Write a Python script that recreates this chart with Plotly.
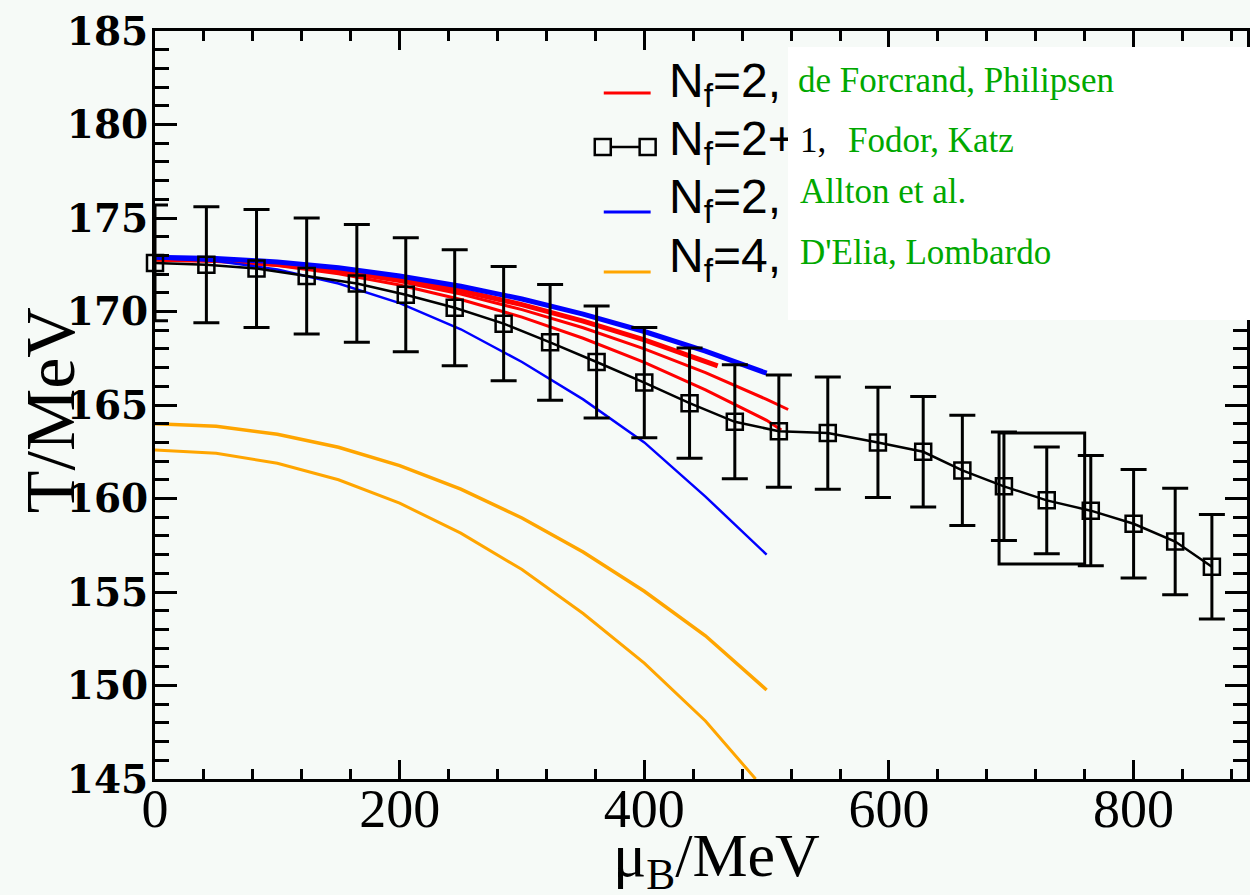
import plotly.graph_objects as go

# ---- Fodor & Katz, Nf=2+1 transition line with errors ----
mu_fk = [0, 42, 83, 124, 165, 205, 245, 285, 323, 361, 400, 437, 474, 510,
         550, 591, 628, 660, 694, 729, 765, 800, 834, 864]
T_fk = [172.6, 172.5, 172.3, 171.9, 171.5, 170.9, 170.2, 169.35, 168.35, 167.3,
        166.2, 165.1, 164.1, 163.6, 163.5, 163.0, 162.5, 161.5, 160.65, 159.9,
        159.35, 158.65, 157.7, 156.35]
dT_fk = [3.1, 3.1, 3.15, 3.1, 3.15, 3.05, 3.1, 3.05, 3.1, 3.0, 2.95, 2.95,
         3.05, 3.0, 3.0, 2.95, 2.95, 2.95, 2.9, 2.85, 2.95, 2.9, 2.85, 2.8]

# critical endpoint estimate (mu_E +- dmu, T_E +- dT)
mu_E, dmu_E = 725, 35
T_E, dT_E = 160, 3.5

# ---- de Forcrand, Philipsen, Nf=2 (three curves) ----
mu_dfp1 = [0, 50, 100, 150, 200, 250, 300, 350, 400, 450, 460]
T_dfp1 = [172.8, 172.73, 172.53, 172.19, 171.72, 171.11, 170.37, 169.49, 168.48, 167.33, 167.09]
mu_dfp2 = [0, 50, 100, 150, 200, 250, 300, 350, 400, 450, 500, 517.6]
T_dfp2 = [172.8, 172.72, 172.5, 172.13, 171.6, 170.93, 170.1, 169.13, 168.0, 166.73, 165.3, 164.76]
mu_dfp3 = [0, 50, 100, 150, 200, 250, 300, 350, 400, 450, 500, 512]
T_dfp3 = [172.8, 172.71, 172.46, 172.02, 171.42, 170.64, 169.7, 168.57, 167.28, 165.81, 164.18, 163.66]

# ---- Allton et al., Nf=2 ----
mu_all = [0, 50, 100, 150, 200, 250, 300, 350, 400, 450, 500]
T_all_up = [172.9, 172.84, 172.65, 172.34, 171.9, 171.35, 170.67, 169.86, 168.93, 167.88, 166.7]
T_all_lo = [172.85, 172.7, 172.25, 171.5, 170.45, 169.05, 167.3, 165.3, 163.0, 160.1, 157.0]

# ---- D'Elia, Lombardo, Nf=4 ----
mu_dl_up = [0, 50, 100, 150, 200, 250, 300, 350, 400, 450, 500]
T_dl_up = [164.0, 163.86, 163.44, 162.74, 161.76, 160.5, 158.96, 157.14, 155.04, 152.66, 149.76]
mu_dl_lo = [0, 50, 100, 150, 200, 250, 300, 350, 400, 450, 491]
T_dl_lo = [162.6, 162.42, 161.88, 161.0, 159.75, 158.15, 156.2, 153.85, 151.2, 148.1, 145.0]

x_ticks = [0, 200, 400, 600, 800]
y_ticks = [145, 150, 155, 160, 165, 170, 175, 180, 185]

RED = "#ff0000"
BLUE = "#0000ff"
ORANGE = "#ffa500"
GREEN = "#00a800"
BG = "#f6faf7"

fig = go.Figure()

# D'Elia, Lombardo
fig.add_trace(go.Scatter(x=mu_dl_up, y=T_dl_up, mode="lines",
                         line=dict(color=ORANGE, width=3.5)))
fig.add_trace(go.Scatter(x=mu_dl_lo, y=T_dl_lo, mode="lines",
                         line=dict(color=ORANGE, width=3)))

# de Forcrand, Philipsen
fig.add_trace(go.Scatter(x=mu_dfp3, y=T_dfp3, mode="lines",
                         line=dict(color=RED, width=3)))
fig.add_trace(go.Scatter(x=mu_dfp2, y=T_dfp2, mode="lines",
                         line=dict(color=RED, width=3)))
fig.add_trace(go.Scatter(x=mu_dfp1, y=T_dfp1, mode="lines",
                         line=dict(color=RED, width=5)))

# Allton et al.
fig.add_trace(go.Scatter(x=mu_all, y=T_all_lo, mode="lines",
                         line=dict(color=BLUE, width=2.5)))
fig.add_trace(go.Scatter(x=mu_all, y=T_all_up, mode="lines",
                         line=dict(color=BLUE, width=5)))

# Fodor, Katz
fig.add_trace(go.Scatter(
    x=mu_fk, y=T_fk, mode="lines+markers", cliponaxis=False,
    line=dict(color="black", width=2.5),
    marker=dict(symbol="square-open", size=16, color="black",
                line=dict(color="black", width=2.5)),
    error_y=dict(type="data", array=dT_fk, visible=True,
                 color="black", thickness=3, width=13),
))

# critical endpoint box
fig.add_shape(type="rect", xref="x", yref="y",
              x0=mu_E - dmu_E, x1=mu_E + dmu_E, y0=T_E - dT_E, y1=T_E + dT_E,
              line=dict(color="black", width=3), fillcolor="rgba(0,0,0,0)",
              layer="above")

# ---- legend, drawn in paper coordinates ----
L, T, PW, PH = 155, 31, 1095, 748


def px(x):
    return (x - L) / PW


def py(y):
    return (T + PH - y) / PH


leg_font = dict(family="Liberation Sans", size=48, color="black")
rows = [
    (93, 84, "N<sub>f</sub>=2,", RED),
    (147, 142, "N<sub>f</sub>=2+", None),
    (212, 200, "N<sub>f</sub>=2,", BLUE),
    (272, 259, "N<sub>f</sub>=4,", ORANGE),
]
for ly, ty, txt, col in rows:
    if col is not None:
        fig.add_shape(type="line", xref="paper", yref="paper",
                      x0=px(605), x1=px(652), y0=py(ly), y1=py(ly),
                      line=dict(color=col, width=3), layer="above")
    fig.add_annotation(xref="paper", yref="paper", x=px(668), y=py(ty),
                       xanchor="left", yanchor="middle", text=txt,
                       showarrow=False, font=leg_font)

# Nf=2+1 legend symbol: line with two open squares
fig.add_shape(type="line", xref="paper", yref="paper",
              x0=px(604), x1=px(649), y0=py(147), y1=py(147),
              line=dict(color="black", width=2.5), layer="above")
for cx in (604, 649):
    fig.add_shape(type="rect", xref="paper", yref="paper",
                  xsizemode="pixel", ysizemode="pixel",
                  xanchor=px(cx), yanchor=py(147),
                  x0=-8, x1=8, y0=-8, y1=8,
                  line=dict(color="black", width=2.5),
                  fillcolor=BG, layer="above")

# white label panel
fig.add_annotation(xref="paper", yref="paper", x=px(790), y=py(47),
                   xanchor="left", yanchor="top", text=" ", showarrow=False,
                   width=470, height=273, bgcolor="white", borderpad=0,
                   borderwidth=0)

ser = dict(family="Liberation Serif", size=35)
labels = [
    (798, 80, "de Forcrand, Philipsen", GREEN),
    (800, 140, "1,", "black"),
    (848, 140, "Fodor, Katz", GREEN),
    (800, 192, "Allton et al.", GREEN),
    (800, 253, "D'Elia, Lombardo", GREEN),
]
for x, y, txt, col in labels:
    fig.add_annotation(xref="paper", yref="paper", x=px(x), y=py(y),
                       xanchor="left", yanchor="middle", text=txt,
                       showarrow=False, font=dict(color=col, **ser))

# axis titles
fig.add_annotation(xref="paper", yref="paper", x=px(718), y=py(900),
                   xanchor="center", yanchor="bottom", showarrow=False,
                   text="μ<sub>B</sub>/MeV",
                   font=dict(family="Liberation Serif", size=62, color="black"))
fig.add_annotation(xref="paper", yref="paper", x=px(50), y=py(410),
                   xanchor="center", yanchor="middle", showarrow=False,
                   text="T/MeV", textangle=-90,
                   font=dict(family="Liberation Serif", size=70, color="black"))

axis_common = dict(showgrid=False, zeroline=False, showline=True,
                   linecolor="black", linewidth=3, mirror="allticks",
                   ticks="inside", tickcolor="black", tickwidth=3)

fig.update_xaxes(range=[0, 892.7], tickvals=x_ticks,
                 ticktext=[str(v) for v in x_ticks], ticklen=19,
                 ticklabelstandoff=-20,
                 tickfont=dict(family="Liberation Serif", size=54, color="black"),
                 minor=dict(dtick=40, ticks="inside", ticklen=10,
                            tickwidth=3, tickcolor="black", showgrid=False),
                 **axis_common)
fig.update_yaxes(range=[145, 185], tickvals=y_ticks,
                 ticktext=[str(v) for v in y_ticks], ticklen=22,
                 ticklabelstandoff=-4,
                 tickfont=dict(family="DejaVu Serif", size=39, color="black",
                               weight="bold"),
                 minor=dict(dtick=1, ticks="inside", ticklen=14,
                            tickwidth=3, tickcolor="black", showgrid=False),
                 **axis_common)

fig.update_layout(width=1250, height=895, autosize=False,
                  margin=dict(l=L, r=0, t=T, b=895 - T - PH),
                  paper_bgcolor=BG, plot_bgcolor=BG, showlegend=False)

fig.write_html("out.html")
